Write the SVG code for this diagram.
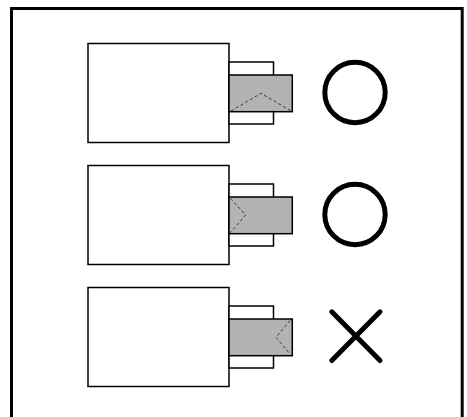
<svg xmlns="http://www.w3.org/2000/svg" width="467" height="417" viewBox="0 0 467 417">
  <style>
    .body { fill: #fff; stroke: #000; stroke-width: 1.5; }
    .slot { fill: #b3b3b3; stroke: #000; stroke-width: 1.5; }
    .fold { fill: none; stroke: #333; stroke-width: 1; stroke-dasharray: 3 2.5; }
    .mark { fill: none; stroke: #000; stroke-width: 5; stroke-linecap: round; }
  </style>
  <rect width="467" height="417" fill="#fff"/>
  <!-- outer frame, open at the bottom edge -->
  <path d="M11.5 417V8.5H462.2V417" fill="none" stroke="#000" stroke-width="3"/>

  <g id="row-1">
    <rect class="body" x="88" y="43.5" width="141" height="99"/>
    <rect class="body" x="229" y="62" width="44.5" height="62"/>
    <rect class="slot" x="229" y="75" width="63.3" height="36.7"/>
    <path class="fold" d="M231 111 261 93.3 291 111"/>
  </g>
  <g id="mark-1">
    <circle class="mark" cx="355" cy="92.5" r="30.2"/>
  </g>

  <g id="row-2">
    <rect class="body" x="88" y="165.5" width="141" height="99"/>
    <rect class="body" x="229" y="184" width="44.5" height="62"/>
    <rect class="slot" x="229" y="197" width="63.3" height="36.7"/>
    <path class="fold" d="M230.5 198.5 245.7 215 230.5 232.5"/>
  </g>
  <g id="mark-2">
    <circle class="mark" cx="355" cy="214.5" r="30.2"/>
  </g>

  <g id="row-3">
    <rect class="body" x="88" y="287.5" width="141" height="99"/>
    <rect class="body" x="229" y="306" width="44.5" height="62"/>
    <rect class="slot" x="229" y="319" width="63.3" height="36.7"/>
    <path class="fold" d="M290 320.5 276 337.3 290 354"/>
  </g>
  <g id="mark-3">
    <path class="mark" d="M331.8 311.8 380 360.5M380 311.8 331.8 360.5"/>
  </g>
</svg>
